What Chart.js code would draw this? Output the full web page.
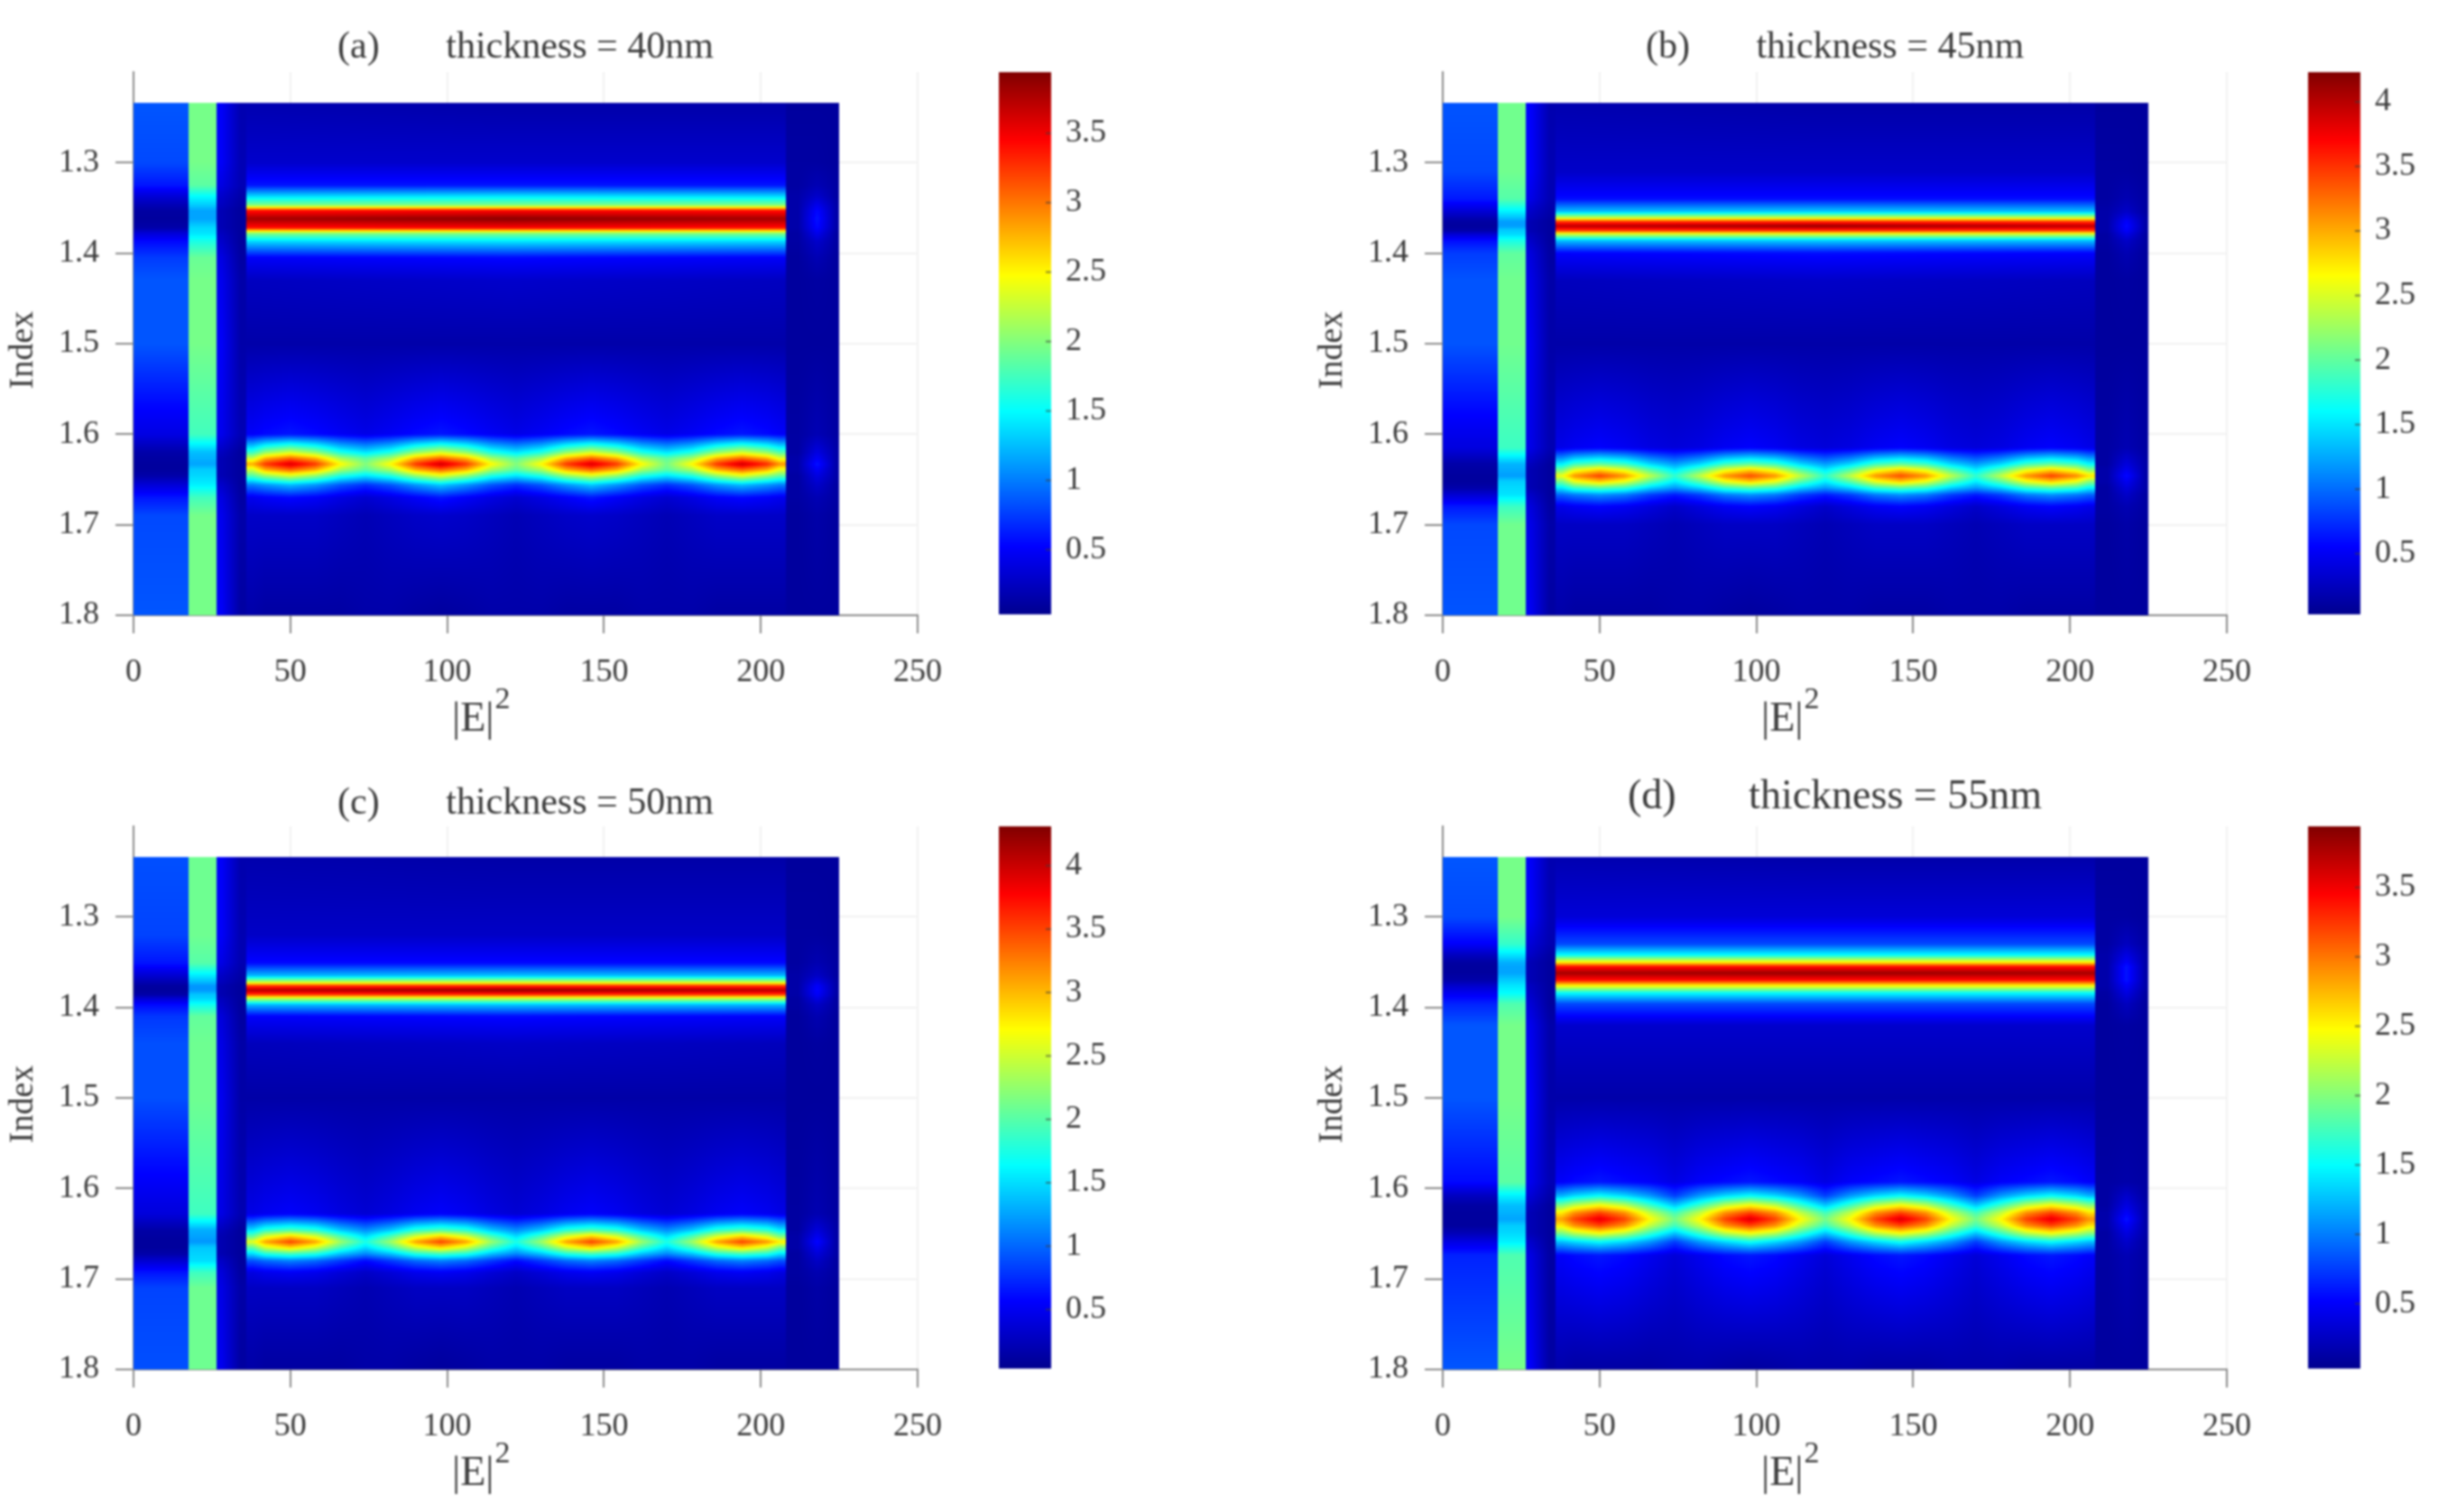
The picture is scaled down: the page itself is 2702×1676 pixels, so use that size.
<!DOCTYPE html>
<html lang="en">
<head>
<meta charset="UTF-8">
<title>Field intensity maps</title>
<script src="https://cdn.jsdelivr.net/npm/chart.js"></script>
<style>
    body { margin: 0; background: #fff; width: 2702px; height: 1676px; overflow: hidden; }
    canvas { position: absolute; filter: blur(1px); }
</style>
</head>
<body>
<script>
    // axis ticks
    const xTicks = [0, 50, 100, 150, 200, 250];
    const yTicks = [1.3, 1.4, 1.5, 1.6, 1.7, 1.8];
    const barTicksA = [0.5, 1, 1.5, 2, 2.5, 3, 3.5];
    const barTicksB = [0.5, 1, 1.5, 2, 2.5, 3, 3.5, 4];

    // colour limits of each panel
    const limitsA = [0.035, 3.94];
    const limitsB = [0.03, 4.23];
    const limitsC = [0.035, 4.31];
    const limitsD = [0.033, 3.94];

    const xUpper = [8, 22, 28, 34, 38, 120, 206, 212, 218, 224];
    const xLower = [8, 22, 28, 34, 38, 42, 50, 58, 66, 74, 82, 90, 98, 106, 114, 122, 130, 138, 146, 154, 162, 170, 178, 186, 194, 202, 206, 212, 218, 224];
    const xBreaks = [17.5, 26.5, 36, 208];

    // panel (a)
    const yUpperA = [1.234, 1.3, 1.325, 1.337, 1.347, 1.353, 1.362, 1.372, 1.378, 1.387, 1.405, 1.43, 1.5];
    const zUpperA = [
        [0.85,1.95,0.5,0.18,0.18,0.15,0.15,0.1,0.1,0.1],
        [0.8,1.95,0.5,0.2,0.3,0.3,0.3,0.12,0.12,0.1],
        [0.6,1.85,0.4,0.2,0.6,0.6,0.6,0.12,0.2,0.12],
        [0.35,1.5,0.3,0.15,1.35,1.4,1.35,0.15,0.3,0.12],
        [0.2,1.3,0.25,0.12,2.0,2.0,2.0,0.15,0.45,0.15],
        [0.12,1.15,0.2,0.1,3.4,3.45,3.4,0.15,0.55,0.15],
        [0.1,1.15,0.2,0.1,3.8,3.9,3.8,0.15,0.6,0.15],
        [0.15,1.35,0.2,0.1,3.4,3.45,3.4,0.15,0.55,0.15],
        [0.35,1.4,0.25,0.1,2.0,2.0,2.0,0.12,0.45,0.12],
        [0.55,1.6,0.3,0.1,1.35,1.4,1.35,0.12,0.3,0.12],
        [0.75,1.9,0.4,0.12,0.5,0.55,0.5,0.1,0.2,0.1],
        [0.85,1.95,0.45,0.15,0.25,0.3,0.25,0.1,0.12,0.1],
        [0.85,1.95,0.5,0.15,0.15,0.15,0.15,0.1,0.1,0.1]
    ];
    const yLowerA = [1.5, 1.6, 1.62, 1.627, 1.633, 1.639, 1.646, 1.656, 1.67, 1.69, 1.8];
    const zLowerA = [
        [0.85,1.95,0.5,0.15,0.15,0.15,0.15,0.15,0.15,0.15,0.15,0.15,0.15,0.15,0.15,0.15,0.15,0.15,0.15,0.15,0.15,0.15,0.15,0.15,0.15,0.15,0.15,0.1,0.1,0.1],
        [0.4,1.75,0.45,0.2,0.5,0.55,0.6,0.55,0.48,0.42,0.48,0.55,0.6,0.55,0.48,0.42,0.48,0.55,0.6,0.55,0.48,0.42,0.48,0.55,0.6,0.55,0.5,0.12,0.2,0.12],
        [0.15,1.25,0.25,0.1,1.7,2.05,2.3,2.05,1.6,1.4,1.6,2.05,2.3,2.05,1.6,1.4,1.6,2.05,2.3,2.05,1.6,1.4,1.6,2.05,2.3,2.05,1.8,0.12,0.4,0.15],
        [0.12,1.2,0.2,0.1,2.3,2.8,3.1,2.8,2.15,1.85,2.15,2.8,3.1,2.8,2.15,1.85,2.15,2.8,3.1,2.8,2.15,1.85,2.15,2.8,3.1,2.8,2.4,0.15,0.5,0.15],
        [0.1,1.15,0.2,0.1,2.8,3.25,3.6,3.25,2.5,2.0,2.5,3.25,3.65,3.25,2.5,2.0,2.5,3.25,3.6,3.25,2.5,1.95,2.5,3.25,3.65,3.3,2.9,0.15,0.6,0.15],
        [0.1,1.3,0.2,0.1,2.3,2.8,3.1,2.8,2.15,1.85,2.15,2.8,3.1,2.8,2.15,1.85,2.15,2.8,3.1,2.8,2.15,1.85,2.15,2.8,3.1,2.8,2.4,0.15,0.5,0.15],
        [0.15,1.35,0.2,0.1,1.8,2.05,2.3,2.05,1.6,1.4,1.6,2.05,2.35,2.05,1.6,1.4,1.6,2.05,2.3,2.05,1.6,1.4,1.6,2.05,2.35,2.05,1.85,0.12,0.4,0.15],
        [0.35,1.45,0.3,0.1,1.0,1.1,1.25,1.1,0.85,0.7,0.85,1.1,1.3,1.1,0.85,0.7,0.85,1.1,1.3,1.1,0.85,0.7,0.85,1.1,1.25,1.1,1.0,0.12,0.3,0.12],
        [0.6,1.75,0.4,0.12,0.45,0.5,0.55,0.5,0.4,0.32,0.4,0.5,0.6,0.5,0.4,0.32,0.4,0.5,0.6,0.5,0.4,0.32,0.4,0.5,0.55,0.5,0.45,0.12,0.2,0.12],
        [0.8,1.95,0.45,0.15,0.28,0.28,0.28,0.28,0.24,0.2,0.24,0.28,0.3,0.28,0.24,0.2,0.24,0.28,0.3,0.28,0.24,0.2,0.24,0.28,0.28,0.28,0.28,0.1,0.15,0.1],
        [0.85,1.95,0.5,0.12,0.15,0.12,0.12,0.12,0.12,0.15,0.15,0.12,0.1,0.12,0.15,0.15,0.15,0.12,0.12,0.12,0.15,0.15,0.15,0.12,0.12,0.12,0.12,0.1,0.1,0.1]
    ];

    // panel (b)
    const yUpperB = [1.234, 1.31, 1.34, 1.354, 1.361, 1.365, 1.37, 1.375, 1.379, 1.386, 1.4, 1.43, 1.5];
    const zUpperB = [
        [0.9,2.07,0.55,0.18,0.18,0.15,0.15,0.1,0.1,0.1],
        [0.85,2.07,0.55,0.2,0.3,0.3,0.3,0.12,0.12,0.1],
        [0.65,1.95,0.45,0.2,0.6,0.6,0.6,0.12,0.2,0.12],
        [0.35,1.55,0.3,0.15,1.35,1.4,1.35,0.15,0.3,0.12],
        [0.2,1.35,0.25,0.12,2.45,2.5,2.45,0.15,0.45,0.15],
        [0.12,1.2,0.2,0.1,3.45,3.5,3.45,0.15,0.55,0.15],
        [0.1,1.2,0.2,0.1,4.0,4.15,4.0,0.15,0.6,0.15],
        [0.15,1.4,0.2,0.1,3.45,3.5,3.45,0.15,0.55,0.15],
        [0.35,1.45,0.25,0.1,2.45,2.5,2.45,0.12,0.45,0.12],
        [0.6,1.7,0.3,0.1,1.35,1.4,1.35,0.12,0.3,0.12],
        [0.8,2.0,0.4,0.12,0.55,0.6,0.55,0.1,0.2,0.1],
        [0.9,2.07,0.45,0.15,0.25,0.3,0.25,0.1,0.12,0.1],
        [0.9,2.07,0.5,0.15,0.15,0.15,0.15,0.1,0.1,0.1]
    ];
    const yLowerB = [1.5, 1.615, 1.633, 1.64, 1.646, 1.652, 1.659, 1.667, 1.68, 1.7, 1.8];
    const zLowerB = [
        [0.9,2.07,0.5,0.15,0.15,0.15,0.15,0.15,0.15,0.15,0.15,0.15,0.15,0.15,0.15,0.15,0.15,0.15,0.15,0.15,0.15,0.15,0.15,0.15,0.15,0.15,0.15,0.1,0.1,0.1],
        [0.4,1.85,0.45,0.2,0.45,0.5,0.55,0.5,0.42,0.38,0.42,0.5,0.55,0.5,0.42,0.38,0.42,0.5,0.55,0.5,0.42,0.38,0.42,0.5,0.55,0.5,0.45,0.12,0.2,0.12],
        [0.15,1.3,0.25,0.1,1.55,1.85,2.0,1.85,1.45,1.2,1.45,1.85,2.0,1.85,1.45,1.2,1.45,1.85,2.0,1.85,1.45,1.2,1.45,1.85,2.0,1.85,1.6,0.12,0.4,0.15],
        [0.12,1.25,0.2,0.1,2.1,2.6,2.9,2.6,2.0,1.55,2.0,2.6,2.9,2.6,2.0,1.55,2.0,2.6,2.9,2.6,2.0,1.55,2.0,2.6,2.9,2.6,2.2,0.15,0.5,0.15],
        [0.1,1.2,0.2,0.1,2.6,3.1,3.45,3.1,2.4,1.8,2.4,3.1,3.4,3.1,2.4,1.8,2.4,3.1,3.4,3.1,2.4,1.8,2.4,3.1,3.45,3.15,2.8,0.15,0.6,0.15],
        [0.1,1.4,0.2,0.1,2.1,2.6,2.9,2.6,2.0,1.55,2.0,2.6,2.9,2.6,2.0,1.55,2.0,2.6,2.9,2.6,2.0,1.55,2.0,2.6,2.9,2.6,2.2,0.15,0.5,0.15],
        [0.15,1.45,0.2,0.1,1.55,1.85,2.0,1.85,1.45,1.2,1.45,1.85,2.0,1.85,1.45,1.2,1.45,1.85,2.0,1.85,1.45,1.2,1.45,1.85,2.0,1.85,1.6,0.12,0.4,0.15],
        [0.35,1.5,0.3,0.1,0.95,1.05,1.15,1.05,0.8,0.65,0.8,1.05,1.15,1.05,0.8,0.65,0.8,1.05,1.15,1.05,0.8,0.65,0.8,1.05,1.15,1.05,0.95,0.12,0.3,0.12],
        [0.65,1.85,0.4,0.12,0.45,0.5,0.55,0.5,0.4,0.3,0.4,0.5,0.55,0.5,0.4,0.3,0.4,0.5,0.55,0.5,0.4,0.3,0.4,0.5,0.55,0.5,0.45,0.12,0.2,0.12],
        [0.85,2.07,0.45,0.15,0.28,0.28,0.28,0.28,0.24,0.2,0.24,0.28,0.28,0.28,0.24,0.2,0.24,0.28,0.28,0.28,0.24,0.2,0.24,0.28,0.28,0.28,0.28,0.1,0.15,0.1],
        [0.9,2.07,0.5,0.12,0.15,0.12,0.12,0.12,0.12,0.15,0.15,0.12,0.1,0.12,0.15,0.15,0.15,0.12,0.12,0.12,0.15,0.15,0.15,0.12,0.12,0.12,0.12,0.1,0.1,0.1]
    ];

    // panel (c)
    const yUpperC = [1.234, 1.32, 1.351, 1.365, 1.372, 1.376, 1.381, 1.386, 1.39, 1.397, 1.41, 1.44, 1.5];
    const zUpperC = [
        [0.9,2.1,0.55,0.18,0.18,0.15,0.15,0.1,0.1,0.1],
        [0.85,2.1,0.55,0.2,0.3,0.3,0.3,0.12,0.12,0.1],
        [0.65,2.0,0.45,0.2,0.6,0.6,0.6,0.12,0.2,0.12],
        [0.35,1.55,0.3,0.15,1.35,1.4,1.35,0.15,0.3,0.12],
        [0.2,1.35,0.25,0.12,2.45,2.5,2.45,0.15,0.45,0.15],
        [0.12,1.2,0.2,0.1,3.5,3.55,3.5,0.15,0.55,0.15],
        [0.1,1.2,0.2,0.1,4.1,4.25,4.1,0.15,0.6,0.15],
        [0.15,1.4,0.2,0.1,3.5,3.55,3.5,0.15,0.55,0.15],
        [0.35,1.45,0.25,0.1,2.45,2.5,2.45,0.12,0.45,0.12],
        [0.6,1.7,0.3,0.1,1.35,1.4,1.35,0.12,0.3,0.12],
        [0.8,2.05,0.4,0.12,0.55,0.6,0.55,0.1,0.2,0.1],
        [0.9,2.1,0.45,0.15,0.25,0.3,0.25,0.1,0.12,0.1],
        [0.9,2.1,0.5,0.15,0.15,0.15,0.15,0.1,0.1,0.1]
    ];
    const yLowerC = [1.5, 1.628, 1.646, 1.653, 1.659, 1.665, 1.672, 1.68, 1.693, 1.71, 1.8];
    const zLowerC = [
        [0.9,2.1,0.5,0.15,0.15,0.15,0.15,0.15,0.15,0.15,0.15,0.15,0.15,0.15,0.15,0.15,0.15,0.15,0.15,0.15,0.15,0.15,0.15,0.15,0.15,0.15,0.15,0.1,0.1,0.1],
        [0.4,1.9,0.45,0.2,0.45,0.5,0.55,0.5,0.42,0.36,0.42,0.5,0.55,0.5,0.42,0.36,0.42,0.5,0.55,0.5,0.42,0.36,0.42,0.5,0.55,0.5,0.45,0.12,0.2,0.12],
        [0.15,1.3,0.25,0.1,1.5,1.8,1.95,1.8,1.4,1.15,1.4,1.8,1.95,1.8,1.4,1.15,1.4,1.8,1.95,1.8,1.4,1.15,1.4,1.8,1.95,1.8,1.55,0.12,0.4,0.15],
        [0.12,1.25,0.2,0.1,2.05,2.55,2.9,2.55,1.95,1.5,1.95,2.55,2.9,2.55,1.95,1.5,1.95,2.55,2.9,2.55,1.95,1.5,1.95,2.55,2.9,2.55,2.15,0.15,0.5,0.15],
        [0.1,1.2,0.2,0.1,2.6,3.1,3.5,3.1,2.3,1.75,2.3,3.1,3.5,3.1,2.3,1.75,2.3,3.1,3.5,3.1,2.3,1.75,2.3,3.1,3.5,3.15,2.8,0.15,0.6,0.15],
        [0.1,1.4,0.2,0.1,2.05,2.55,2.9,2.55,1.95,1.5,1.95,2.55,2.9,2.55,1.95,1.5,1.95,2.55,2.9,2.55,1.95,1.5,1.95,2.55,2.9,2.55,2.15,0.15,0.5,0.15],
        [0.15,1.45,0.2,0.1,1.5,1.8,1.95,1.8,1.4,1.15,1.4,1.8,1.95,1.8,1.4,1.15,1.4,1.8,1.95,1.8,1.4,1.15,1.4,1.8,1.95,1.8,1.55,0.12,0.4,0.15],
        [0.35,1.5,0.3,0.1,0.9,1.0,1.1,1.0,0.8,0.6,0.8,1.0,1.1,1.0,0.8,0.6,0.8,1.0,1.1,1.0,0.8,0.6,0.8,1.0,1.1,1.0,0.9,0.12,0.3,0.12],
        [0.65,1.9,0.4,0.12,0.42,0.48,0.52,0.48,0.38,0.3,0.38,0.48,0.52,0.48,0.38,0.3,0.38,0.48,0.52,0.48,0.38,0.3,0.38,0.48,0.52,0.48,0.42,0.12,0.2,0.12],
        [0.85,2.1,0.45,0.15,0.28,0.28,0.28,0.28,0.24,0.2,0.24,0.28,0.28,0.28,0.24,0.2,0.24,0.28,0.28,0.28,0.24,0.2,0.24,0.28,0.28,0.28,0.28,0.1,0.15,0.1],
        [0.9,2.1,0.5,0.12,0.15,0.12,0.12,0.12,0.12,0.15,0.15,0.12,0.1,0.12,0.15,0.15,0.15,0.12,0.12,0.12,0.15,0.15,0.15,0.12,0.12,0.12,0.12,0.1,0.1,0.1]
    ];

    // panel (d)
    const yUpperD = [1.234, 1.3, 1.33, 1.342, 1.35, 1.355, 1.362, 1.37, 1.376, 1.384, 1.396, 1.42, 1.5];
    const zUpperD = [
        [0.85,1.95,0.5,0.18,0.18,0.15,0.15,0.1,0.1,0.1],
        [0.8,1.95,0.5,0.2,0.35,0.35,0.35,0.12,0.12,0.1],
        [0.5,1.7,0.35,0.18,0.8,0.8,0.8,0.12,0.25,0.12],
        [0.25,1.4,0.28,0.12,1.5,1.5,1.5,0.15,0.4,0.15],
        [0.12,1.2,0.2,0.1,2.5,2.5,2.5,0.15,0.5,0.15],
        [0.1,1.15,0.2,0.1,3.4,3.4,3.4,0.15,0.6,0.15],
        [0.1,1.15,0.2,0.1,3.8,3.85,3.8,0.15,0.6,0.15],
        [0.15,1.3,0.2,0.1,3.4,3.4,3.4,0.15,0.6,0.15],
        [0.3,1.4,0.25,0.1,2.5,2.5,2.5,0.15,0.5,0.15],
        [0.45,1.5,0.28,0.1,1.5,1.5,1.5,0.12,0.4,0.12],
        [0.65,1.8,0.35,0.1,0.8,0.8,0.8,0.1,0.25,0.1],
        [0.85,1.95,0.45,0.15,0.3,0.3,0.3,0.1,0.12,0.1],
        [0.85,1.95,0.5,0.15,0.15,0.15,0.15,0.1,0.1,0.1]
    ];
    const yLowerD = [1.5, 1.593, 1.608, 1.619, 1.627, 1.634, 1.641, 1.649, 1.659, 1.674, 1.8];
    const zLowerD = [
        [0.85,1.95,0.5,0.15,0.15,0.15,0.15,0.15,0.15,0.15,0.15,0.15,0.15,0.15,0.15,0.15,0.15,0.15,0.15,0.15,0.15,0.15,0.15,0.15,0.15,0.15,0.15,0.1,0.1,0.1],
        [0.55,1.85,0.45,0.2,0.5,0.55,0.6,0.55,0.5,0.4,0.5,0.55,0.6,0.55,0.5,0.4,0.5,0.55,0.6,0.55,0.5,0.4,0.5,0.55,0.6,0.55,0.5,0.12,0.15,0.12],
        [0.25,1.45,0.35,0.15,1.2,1.35,1.5,1.35,1.1,0.75,1.1,1.35,1.5,1.35,1.1,0.75,1.1,1.35,1.5,1.35,1.1,0.75,1.1,1.35,1.5,1.35,1.2,0.12,0.3,0.12],
        [0.12,1.25,0.25,0.1,2.0,2.25,2.5,2.25,1.75,1.3,1.75,2.25,2.5,2.25,1.75,1.3,1.75,2.25,2.5,2.25,1.75,1.3,1.75,2.25,2.5,2.25,2.05,0.12,0.4,0.15],
        [0.1,1.2,0.2,0.1,2.55,2.9,3.2,2.9,2.25,1.75,2.25,2.9,3.2,2.9,2.25,1.75,2.25,2.9,3.2,2.9,2.25,1.75,2.25,2.9,3.2,2.9,2.6,0.15,0.5,0.15],
        [0.1,1.15,0.2,0.1,2.85,3.2,3.55,3.2,2.5,1.95,2.5,3.2,3.6,3.2,2.5,1.95,2.5,3.2,3.6,3.2,2.5,1.95,2.5,3.2,3.55,3.2,2.9,0.15,0.6,0.15],
        [0.1,1.3,0.2,0.1,2.55,2.9,3.2,2.9,2.25,1.75,2.25,2.9,3.2,2.9,2.25,1.75,2.25,2.9,3.2,2.9,2.25,1.75,2.25,2.9,3.2,2.9,2.6,0.15,0.5,0.15],
        [0.2,1.35,0.2,0.1,2.0,2.25,2.5,2.25,1.75,1.3,1.75,2.25,2.5,2.25,1.75,1.3,1.75,2.25,2.5,2.25,1.75,1.3,1.75,2.25,2.5,2.25,2.05,0.12,0.4,0.15],
        [0.4,1.45,0.3,0.1,1.25,1.35,1.5,1.35,1.1,0.75,1.1,1.35,1.55,1.35,1.1,0.75,1.1,1.35,1.55,1.35,1.1,0.75,1.1,1.35,1.5,1.35,1.25,0.12,0.3,0.12],
        [0.65,1.8,0.4,0.12,0.5,0.55,0.6,0.55,0.45,0.35,0.45,0.55,0.6,0.55,0.45,0.35,0.45,0.55,0.6,0.55,0.45,0.35,0.45,0.55,0.6,0.55,0.5,0.12,0.2,0.12],
        [0.85,1.95,0.5,0.12,0.15,0.12,0.12,0.12,0.12,0.15,0.15,0.12,0.1,0.12,0.15,0.15,0.15,0.12,0.12,0.12,0.15,0.15,0.15,0.12,0.12,0.12,0.12,0.1,0.1,0.1]
    ];

    const titleFont = 'Liberation Serif';
    const textColor = '#3a3a3a';
    const axisColor = '#8a8a8a';
    const jetStops = [[0, 0, 0, 143], [0.125, 0, 0, 255], [0.375, 0, 255, 255], [0.625, 255, 255, 0], [0.875, 255, 0, 0], [1, 128, 0, 0]];

    function jet(t) {
        t = Math.min(1, Math.max(0, t));
        for (let i = 1; i < jetStops.length; i++) {
            if (t <= jetStops[i][0]) {
                const a = jetStops[i - 1], b = jetStops[i];
                const f = (t - a[0]) / (b[0] - a[0]);
                return [a[1] + (b[1] - a[1]) * f, a[2] + (b[2] - a[2]) * f, a[3] + (b[3] - a[3]) * f];
            }
        }
        return jetStops[5].slice(1);
    }

    // neighbours of v in list and the weight between them
    function locate(list, v, breaks) {
        if (v <= list[0]) return [0, 0, 0];
        const last = list.length - 1;
        if (v >= list[last]) return [last, last, 0];
        let i = 0;
        while (list[i + 1] < v) i++;
        const jump = breaks.find(b => b > list[i] && b < list[i + 1]);
        if (jump !== undefined) return v < jump ? [i, i, 0] : [i + 1, i + 1, 0];
        return [i, i + 1, (v - list[i]) / (list[i + 1] - list[i])];
    }

    function fieldAt(xs, ys, zs, x, y) {
        const [c0, c1, fx] = locate(xs, x, xBreaks);
        const [r0, r1, fy] = locate(ys, y, []);
        const top = zs[r0][c0] + (zs[r0][c1] - zs[r0][c0]) * fx;
        const bot = zs[r1][c0] + (zs[r1][c1] - zs[r1][c0]) * fx;
        return top + (bot - top) * fy;
    }

    // paints the map under the datasets, going through the chart scales
    function heatPlugin(panel) {
        return {
            id: 'heat',
            beforeDatasetsDraw(chart) {
                const sx = chart.scales.x, sy = chart.scales.y, ctx = chart.ctx;
                const left = Math.round(sx.getPixelForValue(0)), right = Math.round(sx.getPixelForValue(225));
                const top = Math.round(sy.getPixelForValue(panel.yUpper[0])), bottom = Math.round(sy.getPixelForValue(1.8));
                const w = right - left, h = bottom - top;
                const img = ctx.createImageData(w, h);
                const span = panel.limits[1] - panel.limits[0];
                for (let j = 0; j < h; j++) {
                    const y = sy.getValueForPixel(top + j + 0.5);
                    for (let i = 0; i < w; i++) {
                        const x = sx.getValueForPixel(left + i + 0.5);
                        const v = y < 1.5
                            ? fieldAt(xUpper, panel.yUpper, panel.zUpper, x, y)
                            : fieldAt(xLower, panel.yLower, panel.zLower, x, y);
                        const c = jet((v - panel.limits[0]) / span);
                        const k = (j * w + i) * 4;
                        img.data[k] = c[0]; img.data[k + 1] = c[1]; img.data[k + 2] = c[2]; img.data[k + 3] = 255;
                    }
                }
                ctx.putImageData(img, left, top);
            },
            afterDraw(chart) {
                const ctx = chart.ctx, x0 = chart.scales.x.left, y0 = chart.scales.y.bottom;
                ctx.save();
                ctx.fillStyle = textColor;
                ctx.textBaseline = 'middle';
                ctx.font = '46px "' + titleFont + '"';
                ctx.fillText('|E|', x0 + 353, y0 + 116);
                const w = ctx.measureText('|E|').width;
                ctx.font = '34px "' + titleFont + '"';
                ctx.fillText('2', x0 + 353 + w + 1, y0 + 94);
                // y axis label
                ctx.font = '38px "' + titleFont + '"';
                ctx.textAlign = 'center';
                ctx.translate(x0 - 122, 388);
                ctx.rotate(-Math.PI / 2);
                ctx.fillText('Index', 0, 0);
                ctx.restore();
            }
        };
    }

    // short marks inside the colour bar
    const barTickPlugin = {
        id: 'barTick',
        afterDatasetsDraw(chart) {
            const ctx = chart.ctx, s = chart.scales.y, right = chart.chartArea.right;
            ctx.save();
            ctx.strokeStyle = 'rgba(60,60,60,0.6)';
            ctx.lineWidth = 2;
            s.ticks.forEach(t => {
                const y = s.getPixelForValue(t.value);
                ctx.beginPath();
                ctx.moveTo(right - 6, y);
                ctx.lineTo(right, y);
                ctx.stroke();
            });
            ctx.restore();
        }
    };

    function addCanvas(left, top, width, height) {
        const c = document.createElement('canvas');
        c.width = width; c.height = height;
        c.style.left = left + 'px'; c.style.top = top + 'px';
        c.style.width = width + 'px'; c.style.height = height + 'px';
        document.body.appendChild(c);
        return c;
    }

    function gridPoints(xs, ys, zs) {
        const pts = [];
        ys.forEach((y, r) => xs.forEach((x, c) => pts.push({ x: x, y: y, v: zs[r][c] })));
        return pts;
    }

    function drawPanel(panel) {
        const canvas = addCanvas(panel.left, panel.top, panel.axisLeft + 869 + 60, 830);
        new Chart(canvas, {
            type: 'scatter',
            data: {
                datasets: [
                    { label: 'upper', data: gridPoints(xUpper, panel.yUpper, panel.zUpper), pointRadius: 0 },
                    { label: 'lower', data: gridPoints(xLower, panel.yLower, panel.zLower), pointRadius: 0 }
                ]
            },
            options: {
                responsive: false,
                animation: false,
                layout: { padding: { right: 60, top: 0, bottom: 0, left: 0 } },
                plugins: {
                    legend: { display: false },
                    tooltip: { enabled: false },
                    title: {
                        display: true,
                        fullSize: false,
                        text: panel.title,
                        color: textColor,
                        font: { family: titleFont, size: panel.titleSize, weight: 'normal' },
                        padding: { top: 80 - panel.titleSize * 1.2 - panel.titleGap, bottom: panel.titleGap }
                    }
                },
                scales: {
                    x: {
                        type: 'linear', min: 0, max: 250,
                        afterBuildTicks: s => { s.ticks = xTicks.map(v => ({ value: v })); },
                        afterFit: s => { s.height = 148; },
                        border: { color: axisColor, width: 2 },
                        grid: { color: '#f1f1f1', lineWidth: 2, tickColor: axisColor, tickLength: 20, tickWidth: 2 },
                        ticks: { color: textColor, font: { family: titleFont, size: 36 }, padding: 22, maxRotation: 0, autoSkip: false }
                    },
                    y: {
                        type: 'linear', reverse: true, min: 1.2, max: 1.8,
                        afterBuildTicks: s => { s.ticks = yTicks.map(v => ({ value: v })); },
                        afterFit: s => { s.width = panel.axisLeft; },
                        border: { color: axisColor, width: 2 },
                        grid: { color: '#f1f1f1', lineWidth: 2, tickColor: axisColor, tickLength: 20, tickWidth: 2 },
                        ticks: { color: textColor, font: { family: titleFont, size: 36 }, padding: 18, autoSkip: false, callback: v => v.toFixed(1) }
                    }
                }
            },
            plugins: [heatPlugin(panel)]
        });

        // colour bar: one floating bar from limit to limit
        const barCanvas = addCanvas(panel.barLeft, panel.top + 60, 140, 641);
        new Chart(barCanvas, {
            type: 'bar',
            data: {
                labels: ['E'],
                datasets: [{
                    data: [panel.limits],
                    barPercentage: 1,
                    categoryPercentage: 1,
                    backgroundColor: ctx => {
                        const area = ctx.chart.chartArea;
                        if (!area) return '#000';
                        const g = ctx.chart.ctx.createLinearGradient(0, area.bottom, 0, area.top);
                        jetStops.forEach(s => g.addColorStop(s[0], `rgb(${s[1]},${s[2]},${s[3]})`));
                        return g;
                    }
                }]
            },
            options: {
                responsive: false,
                animation: false,
                layout: { padding: { top: 20, bottom: 20 } },
                plugins: { legend: { display: false }, tooltip: { enabled: false } },
                scales: {
                    x: { display: false },
                    y: {
                        position: 'right',
                        min: panel.limits[0], max: panel.limits[1],
                        afterBuildTicks: s => { s.ticks = panel.barTicks.map(v => ({ value: v })); },
                        afterFit: s => { s.width = 82; s.paddingTop = 0; s.paddingBottom = 0; },
                        border: { display: false },
                        grid: { display: false, drawTicks: false },
                        ticks: { color: textColor, font: { family: titleFont, size: 36 }, padding: 16, autoSkip: false, callback: v => String(v) }
                    }
                }
            },
            plugins: [barTickPlugin]
        });
    }

    drawPanel({ title: '(a)       thickness = 40nm', titleSize: 42, titleGap: 2, left: 0, top: 0, axisLeft: 148, barLeft: 1107, limits: limitsA, barTicks: barTicksA, yUpper: yUpperA, zUpper: zUpperA, yLower: yLowerA, zLower: zLowerA });
    drawPanel({ title: '(b)       thickness = 45nm', titleSize: 42, titleGap: 2, left: 1452, top: 0, axisLeft: 147, barLeft: 2558, limits: limitsB, barTicks: barTicksB, yUpper: yUpperB, zUpper: zUpperB, yLower: yLowerB, zLower: zLowerB });
    drawPanel({ title: '(c)       thickness = 50nm', titleSize: 42, titleGap: 0, left: 0, top: 836, axisLeft: 148, barLeft: 1107, limits: limitsC, barTicks: barTicksB, yUpper: yUpperC, zUpper: zUpperC, yLower: yLowerC, zLower: zLowerC });
    drawPanel({ title: '(d)       thickness = 55nm', titleSize: 46, titleGap: 4, left: 1452, top: 836, axisLeft: 147, barLeft: 2558, limits: limitsD, barTicks: barTicksA, yUpper: yUpperD, zUpper: zUpperD, yLower: yLowerD, zLower: zLowerD });
</script>
</body>
</html>
